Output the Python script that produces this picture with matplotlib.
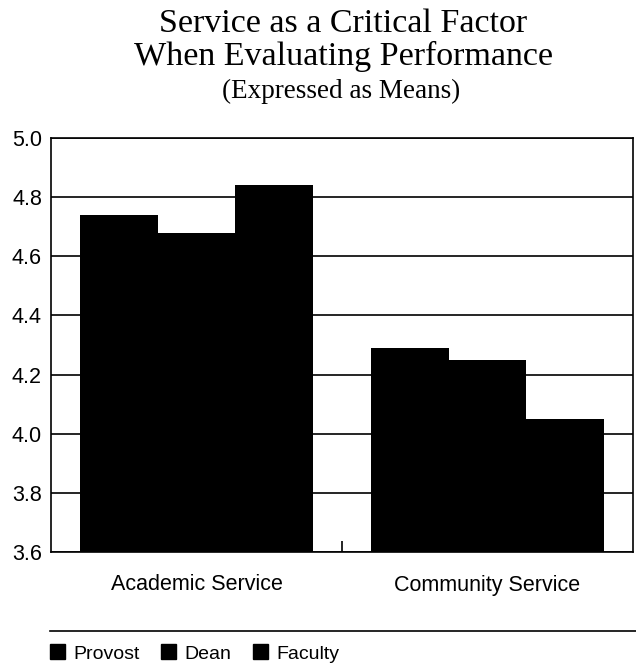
import numpy as np
import matplotlib.pyplot as plt
from matplotlib.lines import Line2D
from matplotlib.patches import Patch

# 数据
categories = ['Academic Service', 'Community Service']
series = ['Provost', 'Dean', 'Faculty']
provost = [4.74, 4.29]
dean = [4.68, 4.25]
faculty = [4.84, 4.05]
yticks = [3.6, 3.8, 4.0, 4.2, 4.4, 4.6, 4.8, 5.0]

fig = plt.figure(figsize=(6.36, 6.66), dpi=100)
ax = fig.add_axes([51 / 636, 1 - 552 / 666, 582 / 636, 414 / 666])

x = np.arange(len(categories))
w = 0.268
for i, vals in enumerate([provost, dean, faculty]):
    ax.bar(x + (i - 1) * w, vals, width=w, color='black', zorder=3)

ax.set_ylim(3.6, 5.0)
ax.set_xlim(-0.5, 1.5)
ax.set_yticks(yticks)
ax.set_yticklabels(['%.1f' % v for v in yticks], fontsize=15.5, family='Liberation Sans')
ax.yaxis.grid(True, color='black', linewidth=1.2, zorder=1)
ax.tick_params(axis='y', length=0, pad=6.5)

# 类别标签 + 中间的小刻度
ax.set_xticks([0.5])
ax.set_xticklabels([''])
ax.tick_params(axis='x', direction='in', length=8, width=1.2)
for xi, lab in zip(x, categories):
    ax.text(xi, -(585 - 552) / 414, lab, transform=ax.get_xaxis_transform(), ha='center',
            va='center', fontsize=15.5, family='Liberation Sans')
for s in ax.spines.values():
    s.set_linewidth(1.2)

# 标题
fig.text(343 / 636, 1 - 32 / 666, 'Service as a Critical Factor', ha='center', va='baseline',
         fontsize=24.5, family='Liberation Serif')
fig.text(343 / 636, 1 - 64.5 / 666, 'When Evaluating Performance', ha='center', va='baseline',
         fontsize=24.5, family='Liberation Serif')
fig.text(341 / 636, 1 - 98 / 666, '(Expressed as Means)', ha='center', va='baseline',
         fontsize=19.5, family='Liberation Serif')

# 图例上方的横线
fig.add_artist(Line2D([50 / 636, 1.0], [1 - 631 / 666] * 2, color='black', linewidth=1.2))

handles = [Patch(facecolor='black', edgecolor='black') for _ in series]
fig.legend(handles, series, loc='center left', bbox_to_anchor=(50 / 636, 1 - 653.5 / 666),
           ncol=3, frameon=False, borderpad=0, borderaxespad=0,
           handlelength=0.77, handleheight=0.77, handletextpad=0.41,
           columnspacing=1.13, prop={'family': 'Liberation Sans', 'size': 14})

plt.savefig('out.png')
